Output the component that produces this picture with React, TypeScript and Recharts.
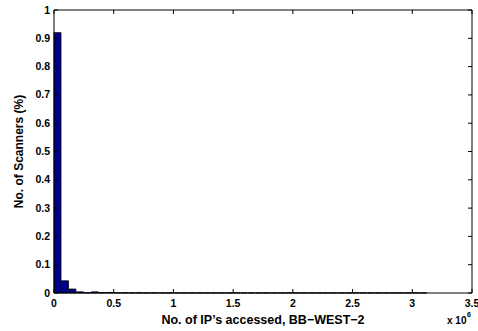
import React from "react";
import { BarChart, Bar, XAxis, YAxis } from "recharts";

// histogram bins, width 0.0625e6, 50 bins from 0
const BIN_WIDTH = 62500;
const scannerShare = [
  0.92, 0.043, 0.014, 0.004, 0.001, 0.004, 0.001, 0.002, 0.0008, 0.001,
  0.0006, 0.0008, 0.0005, 0.0007, 0.0005, 0.0006, 0.0005, 0.0004, 0.0006, 0.0005,
  0.0004, 0.0005, 0.0004, 0.0005, 0.0004, 0.0005, 0.0004, 0.0004, 0.0005, 0.0004,
  0.0004, 0.0005, 0.0004, 0.0004, 0.0004, 0.0005, 0.0004, 0.0004, 0.0004, 0.0004,
  0.0004, 0.0004, 0.0004, 0.0004, 0.0004, 0.0004, 0.0004, 0.0004, 0.0004, 0.0004,
];
const xTicks = [0, 500000, 1000000, 1500000, 2000000, 2500000, 3000000, 3500000];
const xTickLabels = ["0", "0.5", "1", "1.5", "2", "2.5", "3", "3.5"];
const yTicks = [0, 0.1, 0.2, 0.3, 0.4, 0.5, 0.6, 0.7, 0.8, 0.9, 1];
const yTickLabels = ["0", "0.1", "0.2", "0.3", "0.4", "0.5", "0.6", "0.7", "0.8", "0.9", "1"];

const data = scannerShare.map((v, i) => ({ ip: (i + 0.5) * BIN_WIDTH, share: v }));

const FONT = "'Liberation Sans', Arial, sans-serif";
const TICK_LEN = 4;

const BottomTick = (p: any) => {
  const idx = xTicks.indexOf(p.payload.value);
  return (
    <g>
      <line x1={p.x} x2={p.x} y1={p.y} y2={p.y - TICK_LEN} stroke="#000" />
      <text x={p.x} y={p.y + 13.5} textAnchor="middle" fontSize={10.5} fontWeight="bold" fontFamily={FONT} fill="#000">
        {xTickLabels[idx]}
      </text>
    </g>
  );
};

const TopTick = (p: any) => (
  <line x1={p.x} x2={p.x} y1={p.y} y2={p.y + TICK_LEN} stroke="#000" />
);

const LeftTick = (p: any) => {
  const idx = yTicks.indexOf(p.payload.value);
  return (
    <g>
      <line x1={p.x} x2={p.x + TICK_LEN} y1={p.y} y2={p.y} stroke="#000" />
      <text x={p.x - 4} y={p.y + 3.5} textAnchor="end" fontSize={10.5} fontWeight="bold" fontFamily={FONT} fill="#000">
        {yTickLabels[idx]}
      </text>
    </g>
  );
};

const RightTick = (p: any) => (
  <line x1={p.x} x2={p.x - TICK_LEN} y1={p.y} y2={p.y} stroke="#000" />
);

const XLabel = (p: any) => {
  const vb = p.viewBox;
  return (
    <g fontFamily={FONT} fontWeight="bold" fill="#000">
      <text x={vb.x + vb.width / 2} y={vb.y + 31} textAnchor="middle" fontSize={12.5}>
        No. of IP’s accessed, BB−WEST−2
      </text>
      <text x={447} y={vb.y + 31} fontSize={10}>x 10</text>
      <text x={467} y={vb.y + 24} fontSize={7}>6</text>
    </g>
  );
};

const YLabel = (p: any) => {
  const vb = p.viewBox;
  const cy = vb.y + vb.height / 2;
  return (
    <text
      x={19}
      y={cy}
      transform={`rotate(-90, 19, ${cy})`}
      textAnchor="middle"
      dominantBaseline="central"
      fontSize={12}
      fontWeight="bold"
      fontFamily={FONT}
      fill="#000"
    >
      No. of Scanners (%)
    </text>
  );
};

export default function App() {
  return (
    <div style={{ position: "fixed", left: 0, top: 0, background: "#fff" }}>
      <BarChart
        width={478}
        height={331}
        data={data}
        margin={{ top: 9, right: 5, left: 0, bottom: 0 }}
        barCategoryGap={0}
        barGap={0}
      >
        <XAxis
          xAxisId="b"
          dataKey="ip"
          type="number"
          domain={[0, 3500000]}
          ticks={xTicks}
          interval={0}
          height={38}
          tickSize={0}
          tickMargin={0}
          tickLine={false}
          axisLine={{ stroke: "#000" }}
          tick={BottomTick}
          label={{ content: XLabel }}
        />
        <XAxis
          xAxisId="t"
          orientation="top"
          dataKey="ip"
          type="number"
          domain={[0, 3500000]}
          ticks={xTicks}
          interval={0}
          height={1}
          tickSize={0}
          tickMargin={0}
          tickLine={false}
          axisLine={{ stroke: "#000" }}
          tick={TopTick}
        />
        <YAxis
          yAxisId="l"
          type="number"
          domain={[0, 1]}
          ticks={yTicks}
          interval={0}
          width={54}
          tickSize={0}
          tickMargin={0}
          tickLine={false}
          axisLine={{ stroke: "#000" }}
          tick={LeftTick}
          label={{ content: YLabel }}
        />
        <YAxis
          yAxisId="r"
          orientation="right"
          type="number"
          domain={[0, 1]}
          ticks={yTicks}
          interval={0}
          width={1}
          tickSize={0}
          tickMargin={0}
          tickLine={false}
          axisLine={{ stroke: "#000" }}
          tick={RightTick}
        />
        <Bar
          xAxisId="b"
          yAxisId="l"
          dataKey="share"
          fill="#00008F"
          stroke="#000"
          strokeWidth={0.8}
          isAnimationActive={false}
        />
        <Bar
          xAxisId="t"
          yAxisId="r"
          dataKey="share"
          fill="none"
          stroke="none"
          legendType="none"
          isAnimationActive={false}
        />
      </BarChart>
    </div>
  );
}
